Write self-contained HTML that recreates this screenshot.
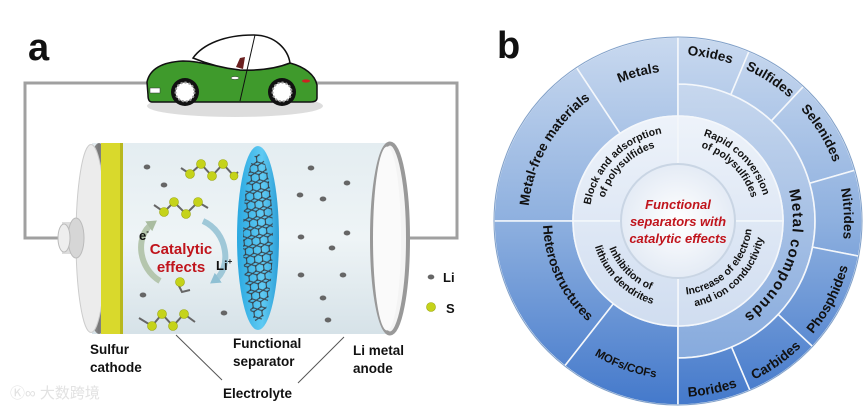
<!DOCTYPE html>
<html><head><meta charset="utf-8"><style>
html,body{margin:0;padding:0;background:#fff;width:866px;height:409px;overflow:hidden}
svg{display:block;font-family:"Liberation Sans",Arial,sans-serif}
</style></head><body>
<svg id="s" width="866" height="409" viewBox="0 0 866 409" xmlns="http://www.w3.org/2000/svg">
<defs>
<linearGradient id="og" gradientUnits="userSpaceOnUse" x1="0" y1="37" x2="0" y2="405">
<stop offset="0" stop-color="#c9d9ef"/><stop offset="0.5" stop-color="#8eb0df"/><stop offset="1" stop-color="#4479cb"/></linearGradient>
<linearGradient id="mg" gradientUnits="userSpaceOnUse" x1="0" y1="80" x2="0" y2="360">
<stop offset="0" stop-color="#c8d8ee"/><stop offset="1" stop-color="#86aadd"/></linearGradient>
<linearGradient id="ig" gradientUnits="userSpaceOnUse" x1="0" y1="115" x2="0" y2="325">
<stop offset="0" stop-color="#eef3fa"/><stop offset="1" stop-color="#d0ddf0"/></linearGradient>
<radialGradient id="cg"><stop offset="0" stop-color="#ffffff"/><stop offset="1" stop-color="#e4ebf5"/></radialGradient>
<linearGradient id="bg" x1="0" y1="0" x2="0" y2="1"><stop offset="0" stop-color="#e4edf1"/><stop offset="0.5" stop-color="#eef4f6"/><stop offset="1" stop-color="#d6e2e8"/></linearGradient>
<linearGradient id="rim" x1="0" y1="0" x2="1" y2="0"><stop offset="0" stop-color="#bbb"/><stop offset="0.5" stop-color="#777"/><stop offset="1" stop-color="#ccc"/></linearGradient>
<linearGradient id="sep" x1="0" y1="0" x2="1" y2="0"><stop offset="0" stop-color="#2aa8e0"/><stop offset="0.6" stop-color="#5fcaf3"/><stop offset="1" stop-color="#2c9ed6"/></linearGradient>
<pattern id="mesh" width="8" height="9" patternUnits="userSpaceOnUse" patternTransform="rotate(-8)">
<path d="M0,2 L4,0 L8,2 M4,0 L4,-2 M0,2 L0,7 L4,9 L8,7 L8,2 M4,9 L4,11" stroke="#3a4650" stroke-width="1.1" fill="none"/>
<circle cx="0" cy="2" r="1" fill="#333"/><circle cx="8" cy="7" r="1" fill="#333"/></pattern>
<clipPath id="sc"><ellipse cx="258" cy="238" rx="15" ry="84"/></clipPath>
<marker id="ah1" markerUnits="userSpaceOnUse" markerWidth="12" markerHeight="12" refX="4" refY="6" orient="auto"><path d="M0,0 L10,6 L0,12Z" fill="#a9bca0"/></marker>
<marker id="ah2" markerUnits="userSpaceOnUse" markerWidth="12" markerHeight="12" refX="4" refY="6" orient="auto"><path d="M0,0 L10,6 L0,12Z" fill="#8fc0d4"/></marker>
<g id="paths"></g>
</defs>

<!-- ===== Panel a ===== -->
<text x="28" y="60" font-size="38" font-weight="bold" fill="#111">a</text>
<polyline points="150,83 25,83 25,238 65,238" fill="none" stroke="#a0a0a0" stroke-width="3"/>
<polyline points="315,83 457,83 457,238 405,238" fill="none" stroke="#a0a0a0" stroke-width="3"/>
<!-- car -->
<ellipse cx="235" cy="106" rx="88" ry="11" fill="#ddd"/>
<path d="M148,95 L147,82 C150,68 163,62 183,61 C198,61 213,66 240,70 C265,71 280,66 290,63 C305,67 315,75 317,85 L317,98 Q317,102 310,102 L152,102 Q148,102 148,95 Z" fill="#3f9a2c" stroke="#111" stroke-width="1.5"/>
<path d="M193,58 C203,44 225,35 253,35 C276,35 288,50 290,63 C280,67 265,71 240,70 C220,68 205,63 193,58 Z" fill="#fff" stroke="#111" stroke-width="1.5"/>
<path d="M255,35 L240,101" stroke="#111" stroke-width="1"/>
<path d="M236,67 L240,58 L245,57 L243,69Z" fill="#6b2020"/>
<rect x="150" y="88" width="10" height="5" fill="#fff" stroke="#333" stroke-width=".5"/>
<ellipse cx="235" cy="78" rx="4" ry="1.5" fill="#fff" stroke="#333" stroke-width=".5"/>
<ellipse cx="306" cy="81" rx="4" ry="1.6" fill="#c22"/>
<circle cx="185" cy="92" r="14" fill="#111"/><circle cx="185" cy="92" r="9.5" fill="#fff" stroke="#999" stroke-width="2" stroke-dasharray="2 2"/>
<circle cx="282" cy="92" r="14" fill="#111"/><circle cx="282" cy="92" r="9.5" fill="#fff" stroke="#999" stroke-width="2" stroke-dasharray="2 2"/>
<!-- battery -->
<rect x="92" y="143" width="298" height="191" fill="url(#bg)"/>
<ellipse cx="99" cy="238.5" rx="16" ry="95.5" fill="url(#rim)"/>
<ellipse cx="91" cy="238.5" rx="15" ry="94" fill="#ececec" stroke="#ccc"/>
<rect x="62" y="222" width="14" height="32" fill="#ddd"/>
<ellipse cx="76" cy="238" rx="8" ry="20" fill="#d6d6d6" stroke="#bbb"/>
<ellipse cx="64" cy="238" rx="6" ry="14" fill="#eee" stroke="#bbb"/>
<rect x="101" y="143" width="22" height="191" fill="#d9d92c"/>
<rect x="120" y="143" width="3" height="191" fill="#b8b81e"/>
<ellipse cx="390" cy="238.5" rx="18" ry="95" fill="#f4f4f4" stroke="#999" stroke-width="4"/>
<ellipse cx="387" cy="238.5" rx="14" ry="92" fill="#fafafa"/>
<ellipse cx="258" cy="238" rx="21" ry="92" fill="url(#sep)"/>
<rect x="238" y="150" width="40" height="180" fill="url(#mesh)" clip-path="url(#sc)"/>
<!-- Li dots -->
<g fill="#666">
<ellipse cx="147" cy="167" rx="3.3" ry="2.5"/><ellipse cx="164" cy="185" rx="3.3" ry="2.5"/>
<ellipse cx="311" cy="168" rx="3.3" ry="2.5"/><ellipse cx="347" cy="183" rx="3.3" ry="2.5"/>
<ellipse cx="323" cy="199" rx="3.3" ry="2.5"/><ellipse cx="300" cy="195" rx="3.3" ry="2.5"/>
<ellipse cx="347" cy="233" rx="3.3" ry="2.5"/><ellipse cx="332" cy="248" rx="3.3" ry="2.5"/>
<ellipse cx="301" cy="237" rx="3.3" ry="2.5"/><ellipse cx="301" cy="275" rx="3.3" ry="2.5"/>
<ellipse cx="343" cy="275" rx="3.3" ry="2.5"/><ellipse cx="323" cy="298" rx="3.3" ry="2.5"/>
<ellipse cx="328" cy="320" rx="3.3" ry="2.5"/><ellipse cx="143" cy="295" rx="3.3" ry="2.5"/>
<ellipse cx="224" cy="313" rx="3.3" ry="2.5"/><ellipse cx="431" cy="277" rx="3.3" ry="2.5"/>
</g>
<!-- S chains -->
<g stroke="#666" stroke-width="2" fill="none">
<polyline points="181,168 190,174 201,164 212,176 223,164 234,176 238,172"/>
<polyline points="154,205 164,212 174,202 186,214 198,202 208,208"/>
<polyline points="178,284 182,292 190,290"/>
<polyline points="139,318 152,326 162,314 173,326 184,314 195,322"/>
</g>
<g fill="#c5d31a" stroke="#9aa60e" stroke-width=".6">
<circle cx="190" cy="174" r="4.5"/><circle cx="201" cy="164" r="4.5"/><circle cx="212" cy="176" r="4.5"/><circle cx="223" cy="164" r="4.5"/><circle cx="234" cy="176" r="4"/>
<circle cx="164" cy="212" r="4.5"/><circle cx="174" cy="202" r="4.5"/><circle cx="186" cy="214" r="4.5"/><circle cx="198" cy="202" r="4.5"/>
<circle cx="180" cy="282" r="4.5"/>
<circle cx="152" cy="326" r="4.5"/><circle cx="162" cy="314" r="4.5"/><circle cx="173" cy="326" r="4.5"/><circle cx="184" cy="314" r="4.5"/>
<circle cx="431" cy="307" r="4.5"/>
</g>
<!-- catalytic arrows -->
<path d="M160,281 C138,268 135,236 152,224" fill="none" stroke="#b5c6ae" stroke-width="6" marker-end="url(#ah1)"/>
<path d="M203,221 C228,232 232,268 215,280" fill="none" stroke="#9fc8d8" stroke-width="6" marker-end="url(#ah2)"/>
<text x="139" y="240" font-size="13" font-weight="bold" fill="#111">e<tspan font-size="8" dy="-6">-</tspan></text>
<text x="181" y="254" font-size="15" font-weight="bold" fill="#c0141c" text-anchor="middle">Catalytic</text>
<text x="181" y="272" font-size="15" font-weight="bold" fill="#c0141c" text-anchor="middle">effects</text>
<text x="216" y="270" font-size="13" font-weight="bold" fill="#111">Li<tspan font-size="8" dy="-6">+</tspan></text>
<text x="443" y="282" font-size="13" font-weight="bold" fill="#111">Li</text>
<text x="446" y="313" font-size="13" font-weight="bold" fill="#111">S</text>
<!-- labels -->
<g font-size="13.5" font-weight="bold" fill="#111">
<text x="90" y="354">Sulfur</text><text x="90" y="372">cathode</text>
<text x="233" y="348">Functional</text><text x="233" y="366">separator</text>
<text x="353" y="355">Li metal</text><text x="353" y="373">anode</text>
<text x="223" y="398">Electrolyte</text>
</g>
<line x1="176" y1="335" x2="222" y2="380" stroke="#555" stroke-width="1"/>
<line x1="344" y1="337" x2="298" y2="383" stroke="#555" stroke-width="1"/>
<text x="10" y="398" font-size="15" fill="#e2e2e2" font-family="Liberation Sans,'Noto Sans CJK SC',sans-serif">Ⓚ∞ 大数跨境</text>

<!-- ===== Panel b ===== -->
<text x="497" y="58" font-size="38" font-weight="bold" fill="#111">b</text>
<g id="sectors"></g>
<g font-weight="bold" fill="#111" font-size="13.5">
<text><textPath href="#t_metals" startOffset="50%" text-anchor="middle">Metals</textPath></text>
<text><textPath href="#t_mfm" startOffset="50%" text-anchor="middle">Metal-free materials</textPath></text>
<text><textPath href="#t_het" startOffset="50%" text-anchor="middle">Heterostructures</textPath></text>
<text font-size="11.5"><textPath href="#t_mof" startOffset="50%" text-anchor="middle">MOFs/COFs</textPath></text>
<text><textPath href="#t_ox" startOffset="50%" text-anchor="middle">Oxides</textPath></text>
<text><textPath href="#t_su" startOffset="50%" text-anchor="middle">Sulfides</textPath></text>
<text><textPath href="#t_se" startOffset="50%" text-anchor="middle">Selenides</textPath></text>
<text><textPath href="#t_ni" startOffset="50%" text-anchor="middle">Nitrides</textPath></text>
<text><textPath href="#t_ph" startOffset="50%" text-anchor="middle">Phosphides</textPath></text>
<text><textPath href="#t_ca" startOffset="50%" text-anchor="middle">Carbides</textPath></text>
<text><textPath href="#t_bo" startOffset="50%" text-anchor="middle">Borides</textPath></text>
<text font-size="15" letter-spacing="1"><textPath href="#t_mc" startOffset="50%" text-anchor="middle">Metal compounds</textPath></text>
</g>
<g font-weight="bold" fill="#111" font-size="10.5">
<text><textPath href="#i1a" startOffset="50%" text-anchor="middle">Block and adsorption</textPath></text>
<text><textPath href="#i1b" startOffset="50%" text-anchor="middle">of polysulfides</textPath></text>
<text><textPath href="#i2a" startOffset="50%" text-anchor="middle">Rapid conversion</textPath></text>
<text><textPath href="#i2b" startOffset="50%" text-anchor="middle">of polysulfides</textPath></text>
<text><textPath href="#i3a" startOffset="50%" text-anchor="middle">Inhibition of</textPath></text>
<text><textPath href="#i3b" startOffset="50%" text-anchor="middle">lithium dendrites</textPath></text>
<text><textPath href="#i4a" startOffset="50%" text-anchor="middle">Increase of electron</textPath></text>
<text><textPath href="#i4b" startOffset="50%" text-anchor="middle">and ion conductivity</textPath></text>
</g>
<g font-weight="bold" font-style="italic" fill="#c0141c" font-size="13" text-anchor="middle">
<text x="678" y="209">Functional</text>
<text x="678" y="226">separators with</text>
<text x="678" y="243">catalytic effects</text>
</g>
</svg>
<script>
var cx=678,cy=221,NS="http://www.w3.org/2000/svg";
function P(r,a){a=a*Math.PI/180;return [(cx+r*Math.sin(a)).toFixed(2),(cy-r*Math.cos(a)).toFixed(2)];}
function arc(r,a0,a1){var p0=P(r,a0),p1=P(r,a1),l=Math.abs(a1-a0)>180?1:0,sw=a1>a0?1:0;
 return "M"+p0+" A"+r+","+r+" 0 "+l+","+sw+" "+p1;}
function sec(r0,r1,a0,a1,f){var p=document.createElementNS(NS,"path");
 var A=P(r1,a0),B=P(r1,a1),C=P(r0,a1),D=P(r0,a0),l=(a1-a0)>180?1:0;
 p.setAttribute("d","M"+A+" A"+r1+","+r1+" 0 "+l+",1 "+B+" L"+C+" A"+r0+","+r0+" 0 "+l+",0 "+D+"Z");
 p.setAttribute("fill",f);p.setAttribute("stroke","#f4f7fb");p.setAttribute("stroke-width","1.6");
 document.getElementById("sectors").appendChild(p);}
function tp(id,r,a0,a1){var p=document.createElementNS(NS,"path");p.setAttribute("id",id);
 p.setAttribute("d",arc(r,a0,a1));document.getElementById("paths").appendChild(p);}
var R1=57,R2=105,R3=137,R4=184,O="url(#og)";
sec(R2,R4,-33.5,0,O);sec(R2,R4,-90,-33.5,O);sec(R2,R4,-142,-90,O);sec(R2,R4,-180,-142,O);
sec(R2,R3,0,180,"url(#mg)");
var b=[0,22.7,43,74,101,133,157,180];for(var i=0;i<7;i++)sec(R3,R4,b[i],b[i+1],O);
sec(R1,R2,-90,0,"url(#ig)");sec(R1,R2,0,90,"url(#ig)");sec(R1,R2,90,180,"url(#ig)");sec(R1,R2,180,270,"url(#ig)");
var c=document.createElementNS(NS,"circle");c.setAttribute("cx",cx);c.setAttribute("cy",cy);c.setAttribute("r",R1);
c.setAttribute("fill","url(#cg)");c.setAttribute("stroke","#c9d5e4");c.setAttribute("stroke-width","2");document.getElementById("sectors").appendChild(c);
var o=document.createElementNS(NS,"circle");o.setAttribute("cx",cx);o.setAttribute("cy",cy);o.setAttribute("r",R4);
o.setAttribute("fill","none");o.setAttribute("stroke","#7f9fc8");o.setAttribute("stroke-width","1");document.getElementById("sectors").appendChild(o);
tp("t_metals",150,-60,30);tp("t_mfm",150,-110,-10);tp("t_het",135,-60,-170);tp("t_mof",158,-110,-210);
tp("t_ox",166,-30,52);tp("t_su",166,-10,76);tp("t_se",166,15,102);tp("t_ni",166,45,130);
tp("t_ph",176,165,70);tp("t_ca",176,190,100);tp("t_bo",176,215,122);tp("t_mc",116,20,200);
tp("i1a",89,-95,5);tp("i1b",77,-95,5);tp("i2a",89,-5,95);tp("i2b",77,-5,95);
tp("i3a",74,275,175);tp("i3b",87,275,175);tp("i4a",74,185,85);tp("i4b",87,185,85);
</script>
</body></html>
